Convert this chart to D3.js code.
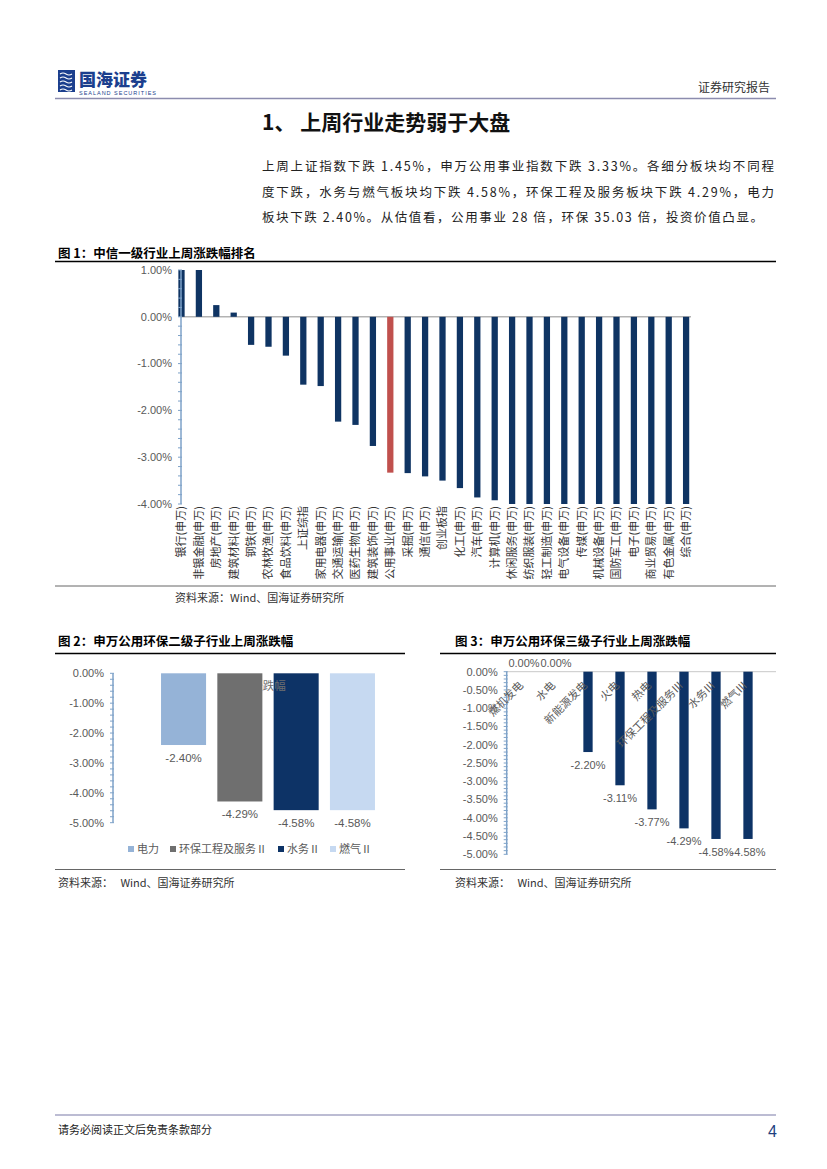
<!DOCTYPE html>
<html><head><meta charset="utf-8">
<script src="https://cdn.jsdelivr.net/npm/d3@7"></script>
<style>
html,body{margin:0;padding:0;background:#fff;}
svg{display:block;}
</style></head>
<body>
<svg id="page" width="827" height="1169"></svg>
<script>
// ---------- DATA ----------
const fig1Categories = ["银行(申万)","非银金融(申万)","房地产(申万)","建筑材料(申万)","钢铁(申万)","农林牧渔(申万)","食品饮料(申万)","上证综指","家用电器(申万)","交通运输(申万)","医药生物(申万)","建筑装饰(申万)","公用事业(申万)","采掘(申万)","通信(申万)","创业板指","化工(申万)","汽车(申万)","计算机(申万)","休闲服务(申万)","纺织服装(申万)","轻工制造(申万)","电气设备(申万)","传媒(申万)","机械设备(申万)","国防军工(申万)","电子(申万)","商业贸易(申万)","有色金属(申万)","综合(申万)"];
const fig1Values = [1.00,1.00,0.25,0.09,-0.60,-0.64,-0.83,-1.45,-1.48,-2.24,-2.31,-2.76,-3.33,-3.34,-3.41,-3.50,-3.66,-3.86,-3.92,-4.00,-4.00,-4.00,-4.00,-4.00,-4.00,-4.00,-4.00,-4.00,-4.00,-4.00];
const fig1Highlight = "公用事业(申万)";
const fig1Ticks = [1,0,-1,-2,-3,-4];

const fig2Categories = ["电力","环保工程及服务Ⅱ","水务Ⅱ","燃气Ⅱ"];
const fig2Values = [-2.40,-4.29,-4.58,-4.58];
const fig2Ticks = [0,-1,-2,-3,-4,-5];

const fig3Categories = ["燃机发电","水电","新能源发电","火电","热电","环保工程及服务Ⅲ","水务Ⅲ","燃气Ⅲ"];
const fig3Values = [0.00,0.00,-2.20,-3.11,-3.77,-4.29,-4.58,-4.58];
const fig3Ticks = [0,-0.5,-1,-1.5,-2,-2.5,-3,-3.5,-4,-4.5,-5];

const paraLines = [
  "上周上证指数下跌 1.45%，申万公用事业指数下跌 3.33%。各细分板块均不同程",
  "度下跌，水务与燃气板块均下跌 4.58%，环保工程及服务板块下跌 4.29%，电力",
  "板块下跌 2.40%。从估值看，公用事业 28 倍，环保 35.03 倍，投资价值凸显。"
];

// ---------- STYLE ----------
const CJK = "'Noto Sans CJK SC','Noto Sans',sans-serif";
const LAT = "'Liberation Sans',Arial,sans-serif";
const grayText = "#595959";
const axisBlue = "#7ea2c8";
const navy = "#0f3463";
const fig2Colors = ["#95b3d7","#6f6f6f","#0d3366","#c6d9f1"];

const svg = d3.select("#page");

// ---------- HEADER ----------
const logo = svg.append("g");
logo.append("rect").attr("x",58).attr("y",70).attr("width",17).attr("height",22).attr("fill","#1c3f8e");
[0,1,2,3,4].forEach(i=>{
  logo.append("path")
    .attr("d",`M60,${74+i*4} q3,-2 6,0 t6,0`)
    .attr("stroke","#fff").attr("stroke-width",1.1).attr("fill","none");
});
logo.append("text").attr("x",79).attr("y",85.5).text("国海证券")
  .attr("font-family",CJK).attr("font-weight",900).attr("font-size",17).attr("fill","#1c3f8e");
logo.append("text").attr("x",79).attr("y",95).text("SEALAND SECURITIES")
  .attr("font-family",LAT).attr("font-size",5.5).attr("fill","#1c3f8e").attr("textLength",77);

svg.append("text").attr("x",770).attr("y",92).attr("text-anchor","end").text("证券研究报告")
  .attr("font-family",CJK).attr("font-size",12).attr("fill","#333");
svg.append("line").attr("x1",55).attr("x2",776).attr("y1",98.5).attr("y2",98.5)
  .attr("stroke","#8c8cae").attr("stroke-width",1.5);

// ---------- TITLE + PARAGRAPH ----------
svg.append("text").attr("x",262).attr("y",130).text("1、 上周行业走势弱于大盘")
  .attr("font-family",CJK).attr("font-weight",700).attr("font-size",21).attr("fill","#111");

const paraWidths = [512,512,501];
paraLines.forEach((t,i)=>{
  svg.append("text").attr("x",262).attr("y",171+i*25.5).text(t)
    .attr("font-family",CJK).attr("font-size",12.5).attr("fill","#222")
    .attr("textLength",paraWidths[i]).attr("lengthAdjust","spacing");
});

// ---------- helpers ----------
function figTitle(x, y, txt){
  svg.append("text").attr("x",x).attr("y",y).text(txt)
    .attr("font-family",CJK).attr("font-weight",700).attr("font-size",12.5).attr("fill","#000");
}
function rule(x1,x2,y,color,w){
  svg.append("line").attr("x1",x1).attr("x2",x2).attr("y1",y).attr("y2",y)
    .attr("stroke",color).attr("stroke-width",w);
}
function source(x,y,txt){
  svg.append("text").attr("x",x).attr("y",y).text(txt)
    .attr("font-family",CJK).attr("font-size",11).attr("fill","#333")
    .style("white-space","pre");
}
const pct = d=>(d<0?"-":"")+Math.abs(d).toFixed(2)+"%";
function yAxis(g, scale, x, ticks, minorStep){
  const [d0,d1] = scale.domain();
  g.append("line").attr("x1",x).attr("x2",x).attr("y1",scale(d0)).attr("y2",scale(d1))
    .attr("stroke",axisBlue).attr("stroke-width",1.5);
  const n = Math.round((d1-d0)/minorStep);
  const minor = d3.range(n+1).map(i=>d0+i*minorStep);
  g.selectAll(null).data(minor).join("line")
    .attr("x1",x-3).attr("x2",x+1).attr("y1",d=>scale(d)).attr("y2",d=>scale(d))
    .attr("stroke",axisBlue).attr("stroke-width",1);
  g.selectAll(null).data(ticks).join("text")
    .attr("x",x-9).attr("y",d=>scale(d)).attr("dy","0.35em").attr("text-anchor","end")
    .text(pct).attr("font-family",LAT).attr("font-size",11).attr("fill",grayText);
}

// ---------- FIGURE 1 ----------
figTitle(58,258,"图 1：中信一级行业上周涨跌幅排名");
rule(55,776,261.5,"#000",1.5);

const g1 = svg.append("g");
const y1 = d3.scaleLinear().domain([-4,1]).range([504,270]);
const x1 = d3.scaleBand().domain(fig1Categories).range([172.8,694.8]).paddingInner(0.64).paddingOuter(0.32);

g1.append("line").attr("x1",181).attr("x2",691).attr("y1",y1(0)).attr("y2",y1(0))
  .attr("stroke","#b3b3b3").attr("stroke-width",1.5);
g1.selectAll("rect").data(fig1Categories).join("rect")
  .attr("x",d=>x1(d)).attr("width",x1.bandwidth())
  .attr("y",(d,i)=>y1(Math.max(0,fig1Values[i])))
  .attr("height",(d,i)=>Math.abs(y1(fig1Values[i])-y1(0)))
  .attr("fill",d=>d===fig1Highlight?"#c0504d":navy);
yAxis(g1,y1,181,fig1Ticks,0.2);
g1.selectAll("text.xl").data(fig1Categories).join("text").attr("class","xl")
  .attr("transform",d=>`translate(${x1(d)+x1.bandwidth()/2},506) rotate(-90)`)
  .attr("dy","0.35em").attr("text-anchor","end").text(d=>d)
  .attr("font-family",CJK).attr("font-size",11).attr("fill","#333");

rule(55,776,586,"#666",1);
source(175,602,"资料来源：Wind、国海证券研究所");

// ---------- FIGURE 2 ----------
figTitle(58,646,"图 2：申万公用环保二级子行业上周涨跌幅");
rule(55,405,653.5,"#000",1.5);
const g2 = svg.append("g");
const y2 = d3.scaleLinear().domain([-5,0]).range([822.7,673.3]);
const x2 = d3.scaleBand().domain(fig2Categories).range([155.4,380.6]).paddingInner(0.2).paddingOuter(0.1);
const c2 = d3.scaleOrdinal().domain(fig2Categories).range(fig2Colors);
g2.selectAll("rect").data(fig2Categories).join("rect")
  .attr("x",d=>x2(d)).attr("width",x2.bandwidth())
  .attr("y",y2(0)).attr("height",(d,i)=>y2(fig2Values[i])-y2(0))
  .attr("fill",d=>c2(d));
g2.append("text").attr("x",(x2(fig2Categories[1])+x2.bandwidth()+x2(fig2Categories[2]))/2+0.5).attr("y",690)
  .attr("text-anchor","middle").text("涨跌幅")
  .attr("font-family",CJK).attr("font-size",11.5).attr("fill","#6f6f6f");
yAxis(g2,y2,113,fig2Ticks,0.2);
g2.selectAll("text.vl").data(fig2Categories).join("text").attr("class","vl")
  .attr("x",d=>x2(d)+x2.bandwidth()/2).attr("y",(d,i)=>y2(fig2Values[i])+17)
  .attr("text-anchor","middle").text((d,i)=>pct(fig2Values[i]))
  .attr("font-family",LAT).attr("font-size",11.5).attr("fill",grayText);
// legend
const legX = [128,170,278,330];
const lg = g2.selectAll("g.lg").data(fig2Categories).join("g").attr("class","lg")
  .attr("transform",(d,i)=>`translate(${legX[i]},849)`);
lg.append("rect").attr("x",0).attr("y",-3).attr("width",6).attr("height",6).attr("fill",d=>c2(d));
lg.append("text").attr("x",9).attr("y",0).attr("dy","0.35em").text(d=>d)
  .attr("font-family",CJK).attr("font-size",11).attr("fill",grayText);
rule(55,405,869.5,"#666",1);
source(58,887,"资料来源：   Wind、国海证券研究所");

// ---------- FIGURE 3 ----------
figTitle(455,646,"图 3：申万公用环保三级子行业上周涨跌幅");
rule(440,776,653.5,"#000",1.5);
const g3 = svg.append("g");
const y3 = d3.scaleLinear().domain([-5,0]).range([854.3,671.7]);
const x3 = d3.scaleBand().domain(fig3Categories).range([508,764]).paddingInner(0.71).paddingOuter(0.355);
g3.append("line").attr("x1",506).attr("x2",776).attr("y1",y3(0)).attr("y2",y3(0))
  .attr("stroke","#c8c8c8").attr("stroke-width",1);
g3.selectAll("rect").data(fig3Categories).join("rect")
  .attr("x",d=>x3(d)).attr("width",x3.bandwidth())
  .attr("y",y3(0)).attr("height",(d,i)=>y3(fig3Values[i])-y3(0))
  .attr("fill","#0d3366");
yAxis(g3,y3,506.7,fig3Ticks,0.1);
g3.selectAll("text.xl").data(fig3Categories).join("text").attr("class","xl")
  .attr("transform",d=>`translate(${x3(d)+x3.bandwidth()/2},686) rotate(-45)`)
  .attr("text-anchor","end").text(d=>d)
  .attr("font-family",CJK).attr("font-size",11).attr("fill",grayText);
g3.selectAll("text.vl").data(fig3Categories).join("text").attr("class","vl")
  .attr("x",d=>x3(d)+x3.bandwidth()/2)
  .attr("y",(d,i)=>fig3Values[i]<0 ? y3(fig3Values[i])+17 : y3(0)-5)
  .attr("text-anchor","middle").text((d,i)=>pct(fig3Values[i]))
  .attr("font-family",LAT).attr("font-size",11).attr("fill",grayText);
rule(440,776,869.5,"#666",1);
source(455,887,"资料来源：   Wind、国海证券研究所");

// ---------- FOOTER ----------
rule(55,776,1115,"#a6a6c4",1.5);
svg.append("text").attr("x",58).attr("y",1134).text("请务必阅读正文后免责条款部分")
  .attr("font-family",CJK).attr("font-size",11).attr("fill","#222");
svg.append("text").attr("x",777).attr("y",1137).attr("text-anchor","end").text("4")
  .attr("font-family",LAT).attr("font-size",16).attr("fill","#1f3f7f");
</script>
</body></html>
